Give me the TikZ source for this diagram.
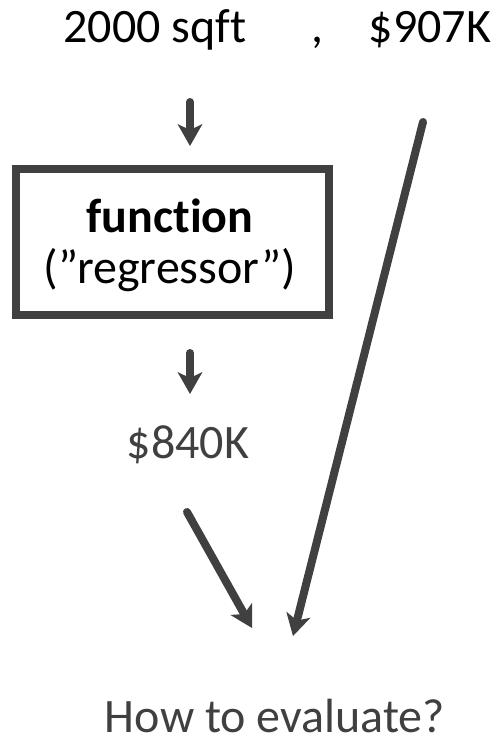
\documentclass[tikz,border=0pt]{standalone}
\usepackage{fontspec}
\setmainfont{Carlito}[Ligatures={NoCommon,NoRare}]
\usetikzlibrary{arrows.meta}
\definecolor{dg}{HTML}{404040}
\tikzset{
  txt/.style={inner sep=0pt, anchor=base, font=\fontsize{48}{57}\selectfont},
  arr/.style={draw=dg, line width=8pt, line cap=round,
    -{Stealth[length=22pt,width=25pt,inset=6pt,line width=0pt]}},
  boxstyle/.style={draw=dg, line width=8pt, minimum width=313pt, minimum height=146pt, inner sep=0pt}
}
\begin{document}
\begin{tikzpicture}[x=1pt,y=-1pt]
\useasboundingbox (0,0) rectangle (500,743);
\node[txt] (sqft) at (155,43) {2000 sqft};
\node[txt] (comma) at (317,43) {,};
\node[txt] (truth) at (430,43) {\$907K};
\node[boxstyle] (box) at (172.5,242) {};
\node[txt, font=\fontsize{48}{57}\selectfont\bfseries] (fn) at (170,232) {function};
\node[txt] (reg) at (170,283) {(”regressor”)};
\node[txt, text=dg] (pred) at (188,458) {\$840K};
\node[txt, text=dg] (question) at (275,732) {How to evaluate?};
\coordinate (a1s) at (190,102);
\coordinate (a1e) at (190,146);
\coordinate (a2s) at (190,353);
\coordinate (a2e) at (190,394);
\coordinate (a3s) at (187,512);
\coordinate (a3e) at (252,628);
\coordinate (a4s) at (423,122);
\coordinate (a4e) at (293,636);
\draw[arr] (a1s) -- (a1e);
\draw[arr] (a2s) -- (a2e);
\draw[arr] (a3s) -- (a3e);
\draw[arr] (a4s) -- (a4e);
\end{tikzpicture}
\end{document}
